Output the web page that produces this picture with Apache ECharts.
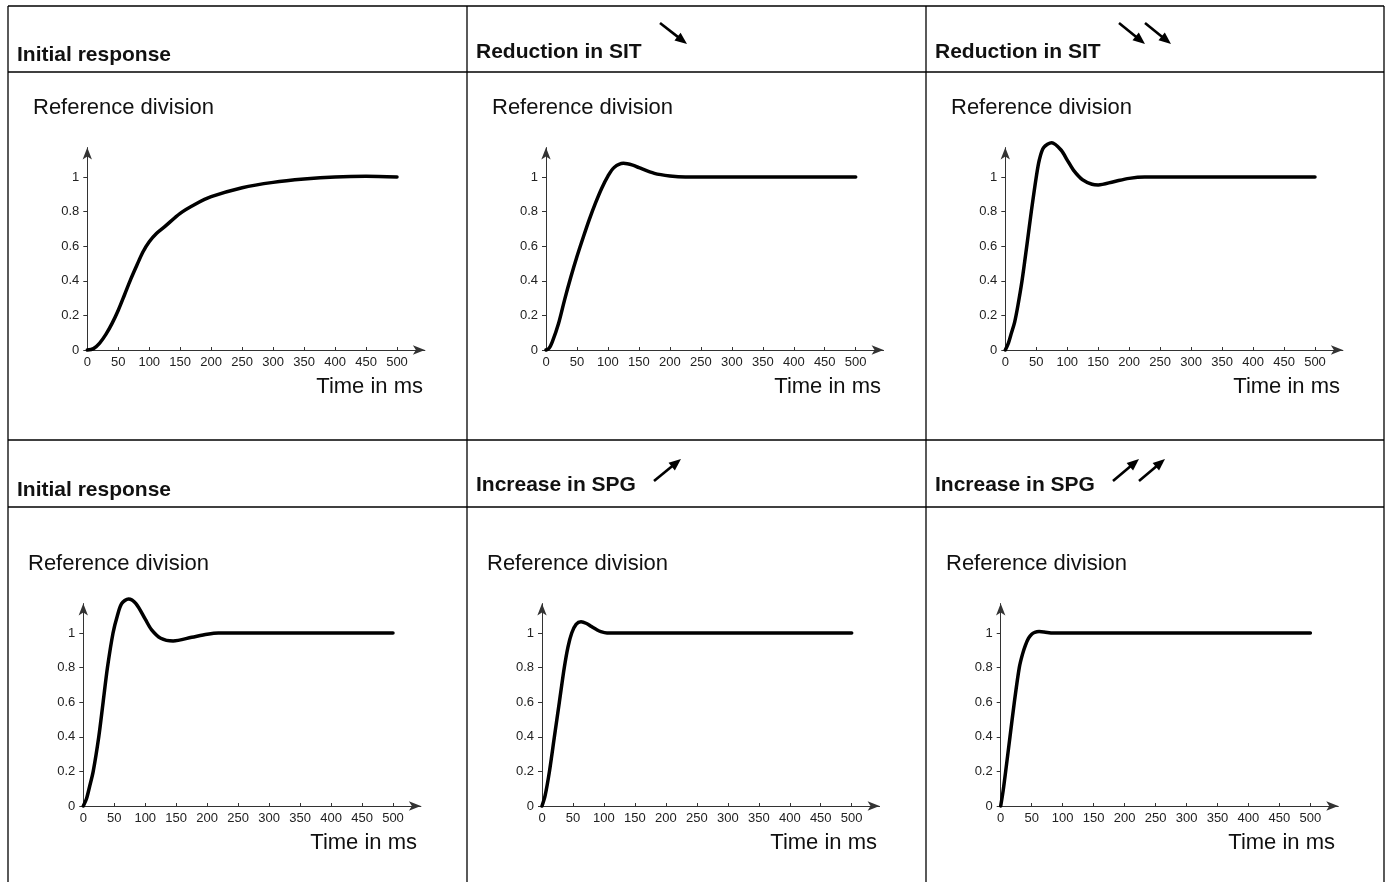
<!DOCTYPE html>
<html>
<head>
<meta charset="utf-8">
<script src="https://cdn.jsdelivr.net/npm/echarts@6/dist/echarts.min.js"></script>
<style>
  html, body { margin: 0; padding: 0; background: #fff; }
  #main { width: 1390px; height: 882px; }
</style>
</head>
<body>
<div id="main"></div>
<script>
// time axis ticks, value ticks
const xTicks = [0, 50, 100, 150, 200, 250, 300, 350, 400, 450, 500];
const yTicks = [0, 0.2, 0.4, 0.6, 0.8, 1];

const titles = ['Initial response', 'Reduction in SIT', 'Reduction in SIT',
                'Initial response', 'Increase in SPG', 'Increase in SPG'];

// top left: initial response (slow)
const t1 = [0, 10, 20, 30, 40, 50, 60, 70, 80, 90, 100, 112, 125, 150, 175, 200, 250, 300, 350, 400, 450, 500];
const v1 = [0, 0.008, 0.04, 0.09, 0.154, 0.23, 0.318, 0.408, 0.49, 0.568, 0.626, 0.675, 0.713, 0.79, 0.844, 0.886, 0.938, 0.969, 0.988, 1.0, 1.004, 1.0];

// top middle: reduction in SIT
const t2 = [0, 5, 10, 20, 30, 40, 50, 60, 70, 80, 90, 100, 110, 125, 140, 150, 175, 200, 225, 250, 300, 400, 500];
const v2 = [0, 0.01, 0.045, 0.15, 0.29, 0.42, 0.54, 0.65, 0.755, 0.85, 0.935, 1.005, 1.055, 1.079, 1.069, 1.054, 1.021, 1.006, 1.0, 1.0, 1.0, 1.0, 1.0];

// top right: reduction in SIT x2
const t3 = [0, 5, 10, 15, 20, 27, 35, 42, 50, 55, 62, 75, 90, 100, 110, 125, 140, 150, 175, 200, 225, 300, 400, 500];
const v3 = [0, 0.04, 0.1, 0.16, 0.25, 0.4, 0.61, 0.8, 1.0, 1.1, 1.17, 1.198, 1.156, 1.098, 1.04, 0.983, 0.958, 0.954, 0.973, 0.992, 1.0, 1.0, 1.0, 1.0];

// bottom left: initial response
const t4 = [0, 5, 10, 16, 25, 32, 39, 48, 55, 62, 73, 85, 100, 110, 125, 145, 175, 200, 218, 300, 400, 500];
const v4 = [0, 0.04, 0.11, 0.2, 0.4, 0.6, 0.8, 1.0, 1.1, 1.17, 1.197, 1.17, 1.08, 1.02, 0.97, 0.954, 0.975, 0.993, 1.0, 1.0, 1.0, 1.0];

// bottom middle: increase in SPG
const t5 = [0, 5, 12, 20, 28, 36, 42, 48, 55, 63, 72, 80, 88, 95, 105, 200, 300, 400, 500];
const v5 = [0, 0.06, 0.2, 0.4, 0.6, 0.8, 0.92, 1.0, 1.05, 1.065, 1.055, 1.037, 1.02, 1.008, 1.0, 1.0, 1.0, 1.0, 1.0];

// bottom right: increase in SPG x2
const t6 = [0, 4, 8, 15, 22, 30, 35, 40, 45, 50, 55, 62, 70, 85, 100, 200, 300, 400, 500];
const v6 = [0, 0.09, 0.2, 0.4, 0.6, 0.8, 0.875, 0.93, 0.97, 0.993, 1.004, 1.008, 1.006, 1.0, 1.0, 1.0, 1.0, 1.0, 1.0];

const curves = [[t1, v1], [t2, v2], [t3, v3], [t4, v4], [t5, v5], [t6, v6]];

// layout of the six little plots
const plotLeft = [87.3, 546, 1005.3, 83.3, 542, 1000.7];
const plotBottom = [350, 350, 350, 806, 806, 806];
const pxPerMs = 0.6194;
const pxPerUnit = 173;
const xMax = 545;
const yMax = 1.17;

const font = "'Liberation Sans', Arial, sans-serif";

const chart = echarts.init(document.getElementById('main'));

const grids = [], xAxes = [], yAxes = [], series = [];
curves.forEach(([t, v], i) => {
  const h = yMax * pxPerUnit;
  grids.push({
    left: plotLeft[i], top: plotBottom[i] - h,
    width: xMax * pxPerMs, height: h
  });
  xAxes.push({
    type: 'value', gridIndex: i, min: 0, max: xMax, interval: 50,
    axisLine: { lineStyle: { color: '#333', width: 1 }, symbol: ['none', 'arrow'], symbolSize: [7, 12] },
    axisTick: { show: true, inside: true, length: 3, customValues: xTicks, lineStyle: { color: '#333' } },
    axisLabel: { customValues: xTicks, color: '#222', fontSize: 13, fontFamily: font, margin: 6 },
    splitLine: { show: false }
  });
  yAxes.push({
    type: 'value', gridIndex: i, min: 0, max: yMax, interval: 0.2,
    axisLine: { show: true, lineStyle: { color: '#333', width: 1 }, symbol: ['none', 'arrow'], symbolSize: [7, 12] },
    axisTick: { show: true, length: 4, customValues: yTicks, lineStyle: { color: '#333' } },
    axisLabel: { customValues: yTicks, color: '#222', fontSize: 13, fontFamily: font, margin: 8 },
    splitLine: { show: false }
  });
  series.push({
    type: 'line', xAxisIndex: i, yAxisIndex: i,
    data: t.map((x, k) => [x, v[k]]),
    smooth: 0.3, showSymbol: false, clip: false,
    lineStyle: { color: '#000', width: 3.5, join: 'round', cap: 'round' },
    z: 5
  });
});

// table frame
const graphic = [];
function hLine(y, x1, x2) {
  graphic.push({ type: 'line', shape: { x1, y1: y, x2, y2: y }, style: { stroke: '#000', lineWidth: 1.3 } });
}
function vLine(x, y1, y2) {
  graphic.push({ type: 'line', shape: { x1: x, y1, x2: x, y2 }, style: { stroke: '#000', lineWidth: 1.3 } });
}
[6, 72, 440, 507].forEach(y => hLine(y, 8, 1384));
[8, 467, 926, 1384].forEach(x => vLine(x, 6, 882));

function label(text, x, y, size, weight, align) {
  graphic.push({
    type: 'text', x, y,
    style: {
      text, fill: '#111', fontSize: size, fontWeight: weight, fontFamily: font,
      textAlign: align, align, textVerticalAlign: 'middle', verticalAlign: 'middle'
    }
  });
}

// headers
const headX = [17, 476, 935, 17, 476, 935];
const headY = [55, 52, 52, 490, 485, 485];
titles.forEach((s, i) => label(s, headX[i], headY[i], 21, 'bold', 'left'));

// axis captions
const refX = [33, 492, 951, 28, 487, 946];
const refY = [108, 108, 108, 564, 564, 564];
const timeX = [423, 881, 1340, 417, 877, 1335];
const timeY = [387, 387, 387, 843, 843, 843];
for (let i = 0; i < 6; i++) {
  label('Reference division', refX[i], refY[i], 22, 'normal', 'left');
  label('Time in ms', timeX[i], timeY[i], 22, 'normal', 'right');
}

// small arrows next to the headers
function arrow(x1, y1, x2, y2) {
  const dx = x2 - x1, dy = y2 - y1;
  const len = Math.sqrt(dx * dx + dy * dy);
  const ux = dx / len, uy = dy / len;
  const hl = 12, hw = 5;
  const bx = x2 - ux * hl, by = y2 - uy * hl;
  graphic.push({ type: 'line', shape: { x1, y1, x2: bx + ux * 2, y2: by + uy * 2 }, style: { stroke: '#000', lineWidth: 2.6 } });
  graphic.push({
    type: 'polygon',
    shape: { points: [[x2, y2], [bx - uy * hw, by + ux * hw], [bx + uy * hw, by - ux * hw]] },
    style: { fill: '#000' }
  });
}
arrow(660, 23, 687, 44);
arrow(1119, 23, 1145, 44);
arrow(1145, 23, 1171, 44);
arrow(654, 481, 681, 459);
arrow(1113, 481, 1139, 459);
arrow(1139, 481, 1165, 459);

chart.setOption({
  animation: false,
  backgroundColor: '#fff',
  grid: grids,
  xAxis: xAxes,
  yAxis: yAxes,
  series,
  graphic
});
</script>
</body>
</html>
